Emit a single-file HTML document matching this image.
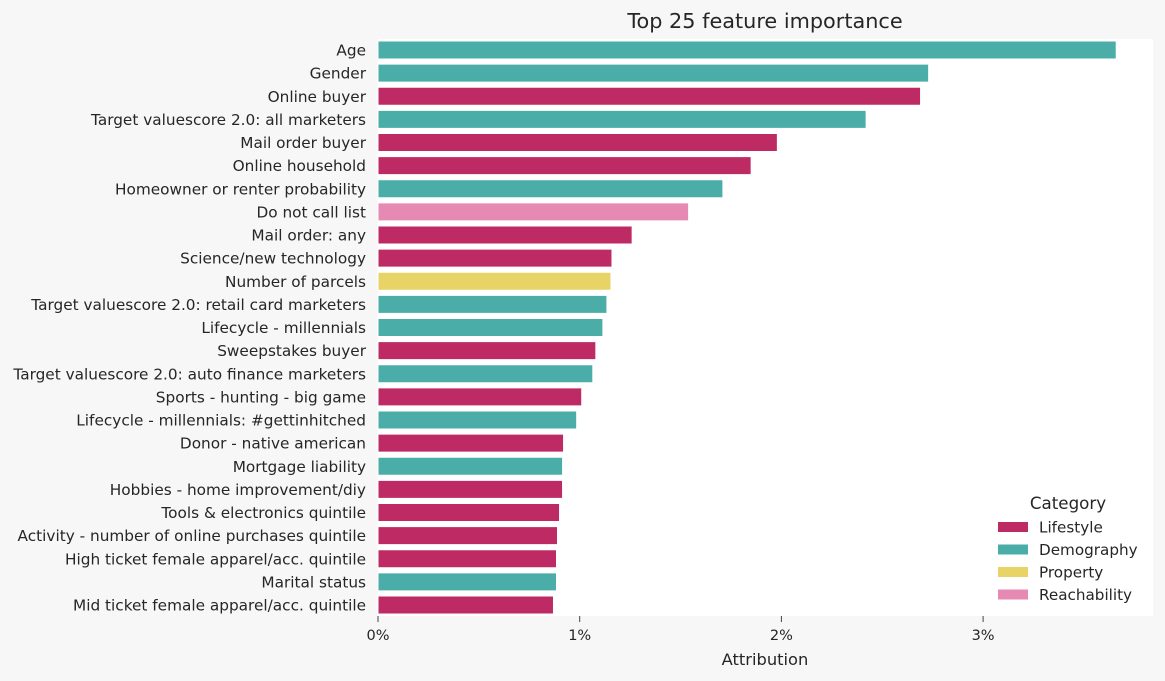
<!DOCTYPE html>
<html><head><meta charset="utf-8">
<style>
html,body{margin:0;padding:0;background:#f7f7f7;font-family:"Liberation Sans","DejaVu Sans",sans-serif;overflow:hidden;}
svg{display:block;}
svg text{font-family:"DejaVu Sans","Liberation Sans",sans-serif;fill:#262626;}
</style></head>
<body>
<svg id="chart" width="1165" height="681">
<rect width="1165" height="681" fill="#f7f7f7"/>
<rect x="378" y="39" width="775" height="577" fill="#ffffff"/>
<text x="765" y="28" font-size="20.8" text-anchor="middle">Top 25 feature importance</text>
<text x="765" y="665" font-size="16.3" text-anchor="middle">Attribution</text>
<g id="bars"></g><g id="ylabels"></g><g id="xticks"></g>
<g id="legend"></g>
</svg>
<script>
const features=["Age","Gender","Online buyer","Target valuescore 2.0: all marketers","Mail order buyer","Online household","Homeowner or renter probability","Do not call list","Mail order: any","Science/new technology","Number of parcels","Target valuescore 2.0: retail card marketers","Lifecycle - millennials","Sweepstakes buyer","Target valuescore 2.0: auto finance marketers","Sports - hunting - big game","Lifecycle - millennials: #gettinhitched","Donor - native american","Mortgage liability","Hobbies - home improvement/diy","Tools & electronics quintile","Activity - number of online purchases quintile","High ticket female apparel/acc. quintile","Marital status","Mid ticket female apparel/acc. quintile"];
const values=[3.66,2.73,2.69,2.42,1.98,1.85,1.71,1.54,1.26,1.16,1.155,1.135,1.115,1.08,1.065,1.01,0.985,0.92,0.915,0.915,0.90,0.89,0.885,0.885,0.87];
const categories=["D","D","L","D","L","L","D","R","L","L","P","D","D","L","D","L","D","L","D","L","L","L","L","D","L"];
const tickValues=[0,1,2,3];
const tickLabels=["0%","1%","2%","3%"];
const legendNames=["Lifestyle","Demography","Property","Reachability"];
const legendKeys=["L","D","P","R"];
const colors={L:"#bd2a64",D:"#4aada8",P:"#e8d366",R:"#e68ab4"};
const NS="http://www.w3.org/2000/svg";
const x=v=>378+v*201.7;
const y=i=>50+i*23.125;
function mk(tag,attrs,parent){const e=document.createElementNS(NS,tag);for(const k in attrs)e.setAttribute(k,attrs[k]);parent.appendChild(e);return e;}
const bars=document.getElementById('bars'),yl=document.getElementById('ylabels'),xt=document.getElementById('xticks');
features.forEach((f,i)=>{
  const r=mk('rect',{x:x(0),y:y(i)-9,width:x(values[i])-x(0),height:18,fill:colors[categories[i]],stroke:"#fff","stroke-width":1},bars);
  
  
  const t=mk('text',{x:366,y:y(i)+5.5,"font-size":15.3,"text-anchor":"end"},yl);
  t.textContent=f;
  
  
});
tickValues.forEach((v,i)=>{
  const l=mk('line',{x1:x(v),x2:x(v),y1:616,y2:622,stroke:"#444","stroke-width":1},xt);
  
  
  const t=mk('text',{x:x(v),y:640,"font-size":14.5,"text-anchor":"middle"},xt);
  t.textContent=tickLabels[i];
  
  
});
const lg=document.getElementById('legend');
const lt=mk('text',{x:1068,y:509,"font-size":16.7,"text-anchor":"middle"},lg);
lt.textContent="Category";


legendNames.forEach((n,i)=>{
  const yy=527+i*22.5;
  const r=mk('rect',{x:998,y:yy-5,width:30,height:10,fill:colors[legendKeys[i]]},lg);
  
  
  const t=mk('text',{x:1039,y:yy+5.5,"font-size":15.2},lg);
  t.textContent=n;
  
  
});
</script>
</body></html>
